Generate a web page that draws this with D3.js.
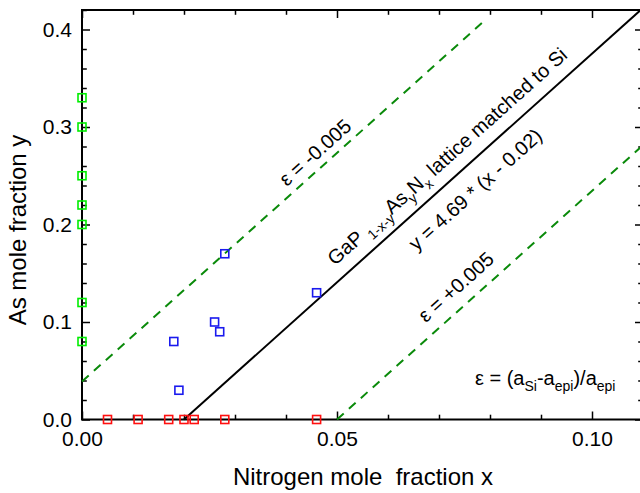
<!DOCTYPE html>
<html>
<head>
<meta charset="utf-8">
<script src="https://cdn.jsdelivr.net/npm/d3@7"></script>
<style>
  body { margin: 0; background: #fff; }
  text { font-family: "Liberation Sans", Arial, sans-serif; fill: #000; }
</style>
</head>
<body>
<svg id="chart" width="640" height="493"></svg>
<script>
// data
const greenY = [0.33, 0.30, 0.25, 0.22, 0.20, 0.12, 0.08] // samples at x = 0
const redX = [0.005, 0.011, 0.017, 0.020, 0.022, 0.028, 0.046] // samples at y = 0
const blueX = [0.018, 0.019, 0.026, 0.027, 0.028, 0.046]
const blueY = [0.08, 0.03, 0.10, 0.09, 0.17, 0.13]

const slope = 4.69
const latticeX0 = 0.02 // y = 4.69 * (x - 0.02)
const minusX0 = -0.0083 // eps = -0.005 line
const plusX0 = 0.05 // eps = +0.005 line

const xTicks = d3.range(0, 0.1101, 0.01)
const xLabels = [0, 0.05, 0.10]
const yTicks = d3.range(0, 0.4201, 0.02)
const yLabels = [0, 0.1, 0.2, 0.3, 0.4]

const svg = d3.select('#chart')
const x = d3.scaleLinear().domain([0, 0.11]).range([82, 643])
const y = d3.scaleLinear().domain([0, 0.42]).range([419.5, 10])

const isMajor = (arr, v) => arr.some(a => Math.abs(a - v) < 1e-6)

// frame: bottom / left axes with labels, top / right with ticks only
function styleAxis (g, labels) {
  g.select('.domain').remove()
  g.selectAll('.tick line').attr('stroke', '#000').attr('stroke-width', 1.5)
  g.selectAll('.tick').filter(d => !isMajor(labels, d)).select('line')
    .each(function () {
      const l = d3.select(this)
      if (l.attr('y2') !== null && +l.attr('y2') !== 0) l.attr('y2', +l.attr('y2') * 0.6)
      if (l.attr('x2') !== null && +l.attr('x2') !== 0) l.attr('x2', +l.attr('x2') * 0.6)
    })
  g.attr('font-family', null)
  g.selectAll('.tick text').attr('font-size', '21px')
}

const fmtX = d => isMajor(xLabels, d) ? d3.format('.2f')(d) : ''
const fmtY = d => isMajor(yLabels, d) ? d3.format('.1f')(d) : ''

svg.append('g').attr('transform', 'translate(0,419.5)')
  .call(d3.axisBottom(x).tickValues(xTicks).tickFormat(fmtX).tickSizeInner(-8).tickSizeOuter(0).tickPadding(12))
  .call(g => styleAxis(g, xLabels))
svg.append('g').attr('transform', 'translate(0,10)')
  .call(d3.axisTop(x).tickValues(xTicks).tickFormat('').tickSizeInner(-8).tickSizeOuter(0))
  .call(g => styleAxis(g, xLabels))
svg.append('g').attr('transform', 'translate(82,0)')
  .call(d3.axisLeft(y).tickValues(yTicks).tickFormat(fmtY).tickSizeInner(-8).tickSizeOuter(0).tickPadding(10))
  .call(g => styleAxis(g, yLabels))
svg.append('g').attr('transform', 'translate(643,0)')
  .call(d3.axisRight(y).tickValues(yTicks).tickFormat('').tickSizeInner(-8).tickSizeOuter(0))
  .call(g => styleAxis(g, yLabels))

svg.append('rect')
  .attr('x', x(0)).attr('y', y(0.42))
  .attr('width', x(0.11) - x(0)).attr('height', y(0) - y(0.42))
  .attr('fill', 'none').attr('stroke', '#000').attr('stroke-width', 2)

// lines
const line = d3.line().x(d => x(d[0])).y(d => y(d[1]))
svg.append('path')
  .attr('d', line([[latticeX0, 0], [latticeX0 + 0.42 / slope, 0.42]]))
  .attr('stroke', '#000').attr('stroke-width', 2).attr('fill', 'none')
svg.append('path')
  .attr('d', line([[0, slope * (0 - minusX0)], [0.0793, slope * (0.0793 - minusX0)]]))
  .attr('stroke', '#0a8a0a').attr('stroke-width', 2).attr('stroke-dasharray', '9,7').attr('fill', 'none')
svg.append('path')
  .attr('d', line([[plusX0, 0], [0.11, slope * (0.11 - plusX0)]]))
  .attr('stroke', '#0a8a0a').attr('stroke-width', 2).attr('stroke-dasharray', '9,7').attr('fill', 'none')

// markers
const sq = 8
function squares (pts, color) {
  svg.append('g').selectAll('rect').data(pts).join('rect')
    .attr('x', d => x(d[0]) - sq / 2).attr('y', d => y(d[1]) - sq / 2)
    .attr('width', sq).attr('height', sq)
    .attr('fill', 'none').attr('stroke', color).attr('stroke-width', 1.6)
}
squares(greenY.map(v => [0, v]), '#00ee00')
squares(redX.map(v => [v, 0]), '#ff1010')
squares(blueX.map((v, i) => [v, blueY[i]]), '#1a1aee')

// rotated labels
const ang = -Math.atan(slope * (y(0) - y(1)) / (x(1) - x(0))) * 180 / Math.PI
function rotLabel (px, py) {
  return svg.append('text')
    .attr('transform', `translate(${x(px)},${y(py)}) rotate(${ang})`)
    .attr('text-anchor', 'middle').attr('dy', '0.35em').attr('font-size', '20px')
}
rotLabel(0.0457, 0.274).text('\u03b5 = -0.005')
rotLabel(0.0733, 0.136).text('\u03b5 = +0.005')
rotLabel(0.0771, 0.236).text('y = 4.69 * (x - 0.02)')
const t = rotLabel(0.0716, 0.27)
t.append('tspan').text('GaP ')
t.append('tspan').attr('font-size', '14px').attr('dy', 6).text('1-x-y')
t.append('tspan').attr('dy', -6).text('As')
t.append('tspan').attr('font-size', '14px').attr('dy', 6).text('y')
t.append('tspan').attr('dy', -6).text('N')
t.append('tspan').attr('font-size', '14px').attr('dy', 6).text('x')
t.append('tspan').attr('dy', -6).text(' lattice matched to Si')

// strain definition
const e = svg.append('text').attr('x', 475).attr('y', 385).attr('font-size', '20px')
e.append('tspan').text('\u03b5 = (a')
e.append('tspan').attr('font-size', '14px').attr('dy', 6).text('Si')
e.append('tspan').attr('dy', -6).text('-a')
e.append('tspan').attr('font-size', '14px').attr('dy', 6).text('epi')
e.append('tspan').attr('dy', -6).text(')/a')
e.append('tspan').attr('font-size', '14px').attr('dy', 6).text('epi')

// axis titles
svg.append('text').attr('x', 363).attr('y', 485).attr('text-anchor', 'middle')
  .attr('font-size', '24px').attr('xml:space', 'preserve').text('Nitrogen mole  fraction x')
svg.append('text').attr('transform', 'translate(26,230) rotate(-90)').attr('text-anchor', 'middle')
  .attr('font-size', '24px').text('As mole fraction y')
</script>
</body>
</html>
